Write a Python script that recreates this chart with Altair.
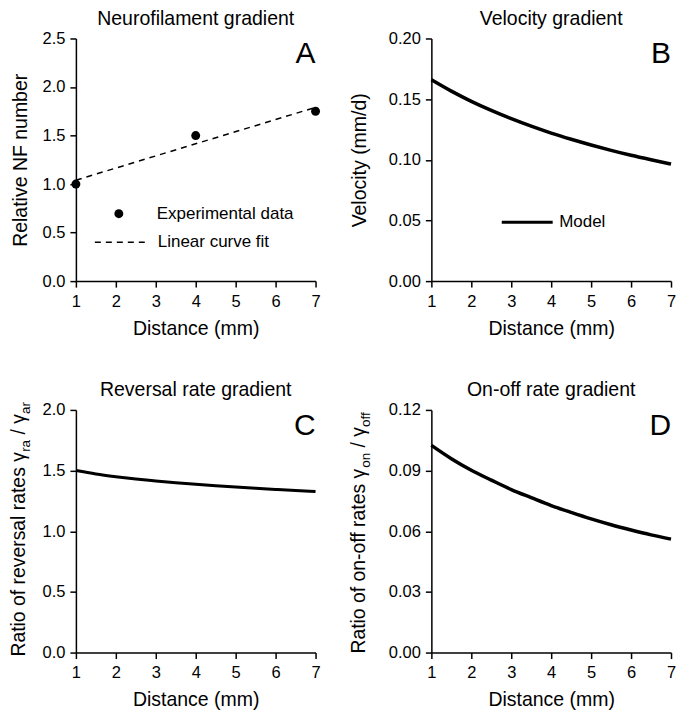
import altair as alt
import pandas as pd

FONT = "Liberation Sans"
NB = "\u00a0"

# ---- data ----
distance = [1.0, 1.5, 2.0, 2.5, 3.0, 3.5, 4.0, 4.5, 5.0, 5.5, 6.0, 6.5, 7.0]
velocity = [0.166, 0.1566, 0.1482, 0.1407, 0.1339, 0.1277, 0.1220, 0.1169, 0.1122, 0.1078, 0.1037, 0.1000, 0.0965]
reversal = [1.50, 1.472, 1.450, 1.431, 1.415, 1.400, 1.387, 1.375, 1.364, 1.354, 1.345, 1.336, 1.328]
onoff = [0.1025, 0.0959, 0.0902, 0.0853, 0.0806, 0.0766, 0.0727, 0.0693, 0.0661, 0.0632, 0.0606, 0.0582, 0.0561]

nf_x = [1, 4, 7]
nf_y = [1.0, 1.5, 1.75]
fit_x = [1, 7]
fit_y = [1.04, 1.79]

x_ticks = [1, 2, 3, 4, 5, 6, 7]

W, H = 240, 243


def xenc():
    return alt.X("x:Q", scale=alt.Scale(domain=[1, 7], nice=False, zero=False),
                 axis=alt.Axis(values=x_ticks, tickCount=20, format="d", title="Distance (mm)",
                               labelFlush=False, labelOverlap=False))


def yenc(dom, step_vals, fmt, title=None, tpad=14):
    if title is None:
        return alt.Y("y:Q", scale=alt.Scale(domain=dom, nice=False, zero=True),
                     axis=alt.Axis(values=step_vals, tickCount=20, format=fmt, title=None,
                                   labelOverlap=False))
    return alt.Y("y:Q", scale=alt.Scale(domain=dom, nice=False, zero=True),
                 axis=alt.Axis(values=step_vals, tickCount=20, format=fmt, title=title,
                               titlePadding=tpad, labelOverlap=False))


def letter(ch, xmax, ymax):
    return alt.Chart(pd.DataFrame({"t": [ch]})).mark_text(
        font=FONT, fontSize=30, align="right", baseline="top", color="black", dy=1
    ).encode(x=alt.datum(xmax), y=alt.datum(ymax), text="t:N")


def rot_text(s, xpix, ypix, size):
    return alt.Chart(pd.DataFrame({"t": [s]})).mark_text(
        font=FONT, fontSize=size, angle=270, align="left", baseline="alphabetic", color="black"
    ).encode(x=alt.value(xpix), y=alt.value(ypix), text="t:N")


LEG = dict(orient="none", title=None, padding=0, labelFont=FONT, labelFontSize=17, labelColor="black")

# ---- Panel A ----
dfA = pd.DataFrame({"x": nf_x, "y": nf_y, "label": ["Experimental data"] * len(nf_x)})
dfF = pd.DataFrame({"x": fit_x, "y": fit_y, "label": ["Linear curve fit"] * len(fit_x)})
yA = yenc([0, 2.5], [0, 0.5, 1.0, 1.5, 2.0, 2.5], ".1f", "Relative NF number", 12)

fitA = alt.Chart(dfF).mark_line(color="black", strokeWidth=1.5).encode(
    x=xenc(), y=yA,
    strokeDash=alt.StrokeDash("label:N", scale=alt.Scale(domain=["Linear curve fit"], range=[[6, 5]]),
                              legend=alt.Legend(legendX=18, legendY=178, symbolType="stroke",
                                                symbolSize=2500, symbolStrokeWidth=1.5,
                                                symbolStrokeColor="black", labelOffset=12, **LEG)))
ptsA = alt.Chart(dfA).mark_point(filled=True, size=80, color="black", opacity=1).encode(
    x=xenc(), y=yA,
    shape=alt.Shape("label:N", scale=alt.Scale(domain=["Experimental data"], range=["circle"]),
                    legend=alt.Legend(legendX=34.5, legendY=167, symbolSize=80, symbolFillColor="black",
                                      symbolStrokeColor="black", symbolStrokeWidth=0,
                                      labelOffset=29.5, **LEG)))
panelA = alt.layer(fitA, ptsA, letter("A", 7, 2.5)).properties(
    width=W, height=H, title="Neurofilament gradient")

# ---- Panel B ----
dfB = pd.DataFrame({"x": distance, "y": velocity, "label": ["Model"] * len(distance)})
yB = yenc([0, 0.2], [0, 0.05, 0.10, 0.15, 0.20], ".2f", "Velocity (mm/d)", 19)
lineB = alt.Chart(dfB).mark_line(strokeWidth=3.5, interpolate="monotone").encode(
    x=xenc(), y=yB,
    color=alt.Color("label:N", scale=alt.Scale(domain=["Model"], range=["black"]),
                    legend=alt.Legend(legendX=69, legendY=157, symbolType="stroke", symbolSize=2601,
                                      symbolStrokeWidth=3, labelOffset=5, **LEG)))
panelB = alt.layer(lineB, letter("B", 7, 0.2)).properties(
    width=W, height=H, title="Velocity gradient")

# ---- Panel C ----
dfC = pd.DataFrame({"x": distance, "y": reversal})
yC = yenc([0, 2.0], [0, 0.5, 1.0, 1.5, 2.0], ".1f")
lineC = alt.Chart(dfC).mark_line(color="black", strokeWidth=3, interpolate="monotone").encode(x=xenc(), y=yC)
panelC = alt.layer(
    lineC, letter("C", 7, 2.0),
    rot_text("Ratio of reversal rates γ", -51, 247, 19.4),
    rot_text("ra", -46, 42, 13.5),
    rot_text("/" + NB + "γ", -51, 24.6, 19.4),
    rot_text("ar", -46, 4, 13.5),
).properties(width=W, height=H, title="Reversal rate gradient")

# ---- Panel D ----
dfD = pd.DataFrame({"x": distance, "y": onoff})
yD = yenc([0, 0.12], [0, 0.03, 0.06, 0.09, 0.12], ".2f")
lineD = alt.Chart(dfD).mark_line(color="black", strokeWidth=3.5, interpolate="monotone").encode(x=xenc(), y=yD)
panelD = alt.layer(
    lineD, letter("D", 7, 0.12),
    rot_text("Ratio of on-off rates γ", -66, 244, 19.4),
    rot_text("on", -61, 58, 13.5),
    rot_text("/" + NB + "γ", -66, 37.6, 19.4),
    rot_text("off", -61, 17, 13.5),
).properties(width=W, height=H, title="On-off rate gradient")

chart = alt.concat(panelA, panelB, panelC, panelD, columns=2,
                   spacing={"row": 42, "column": 27}).resolve_scale(
    x="independent", y="independent", color="independent", shape="independent", strokeDash="independent"
).properties(padding=0).configure_view(stroke=None).configure_axis(
    domainColor="black", domainWidth=1.5, tickColor="black", tickWidth=1.5, tickSize=6,
    labelFont=FONT, labelFontSize=16.5, labelColor="black", labelPadding=5,
    titleFont=FONT, titleFontSize=19.5, titleFontWeight="normal", titleColor="black",
    grid=False
).configure_axisX(labelPadding=6, titlePadding=10).configure_title(
    font=FONT, fontSize=19.5, fontWeight="normal", color="black", offset=1, anchor="middle", frame="group"
)

chart.save("out.html", embed_options={"renderer": "svg", "actions": False})
